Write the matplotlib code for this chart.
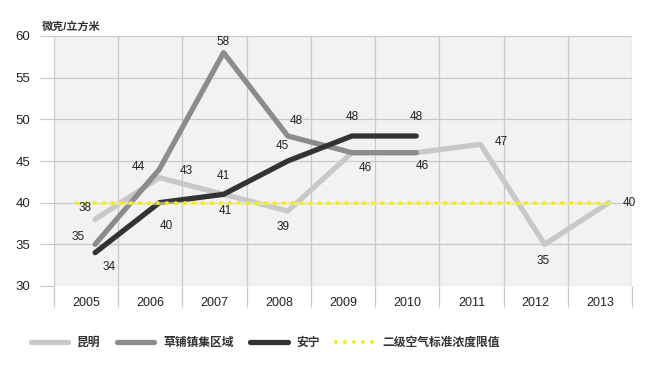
import numpy as np
import matplotlib
matplotlib.use("Agg")
from matplotlib import pyplot as plt
from matplotlib.lines import Line2D

plt.rcParams["font.family"] = ["Liberation Sans", "Noto Sans CJK SC", "DejaVu Sans"]

years = ["2005", "2006", "2007", "2008", "2009", "2010", "2011", "2012", "2013"]
kunming = [38, 43, 41, 39, 46, 46, 47, 35, 40]
caopu = [35, 44, 58, 48, 46, 46]
anning = [34, 40, 41, 45, 48, 48]
standard = [40] * 9

names = ["昆明", "草铺镇集区域", "安宁", "二级空气标准浓度限值"]
unit = "微克/立方米"

c_km, c_cp, c_an = "#c8c8c8", "#8c8c8c", "#333333"
c_std = "#eeee10"
grid_c = "#c9c9c9"

# label offsets in pixels (dx, dy) for each point, None = no label
km_off = [(-10, 11), (27, 7), (2, -17), (-5, -16), (13, -15), None, (21, 2), (-2, -17), (20, 0)]
cp_off = [(-17, 7), (-21, 2), (0, 11), (8, 15), None, (6, -13)]
an_off = [(14, -14), (7, -23), (0, 18), (-5, 15), (0, 19), (0, 19)]

fig = plt.figure(figsize=(6.58, 3.81), dpi=100)
ax = fig.add_axes([54 / 658, 1 - 286 / 381, (632 - 54) / 658, (286 - 36) / 381])
ax.set_facecolor("#f2f2f2")

idx = np.arange(len(years))
xs = idx + 0.14

ax.set_xlim(-0.5, 8.5)
ax.set_ylim(30, 60)
ax.set_yticks(range(30, 61, 5))
ax.set_xticks(idx)
ax.set_xticklabels(years)
ax.set_xticks(np.arange(-0.5, 9, 1), minor=True)
ax.grid(True, axis="y", color=grid_c, lw=0.9, zorder=0)
ax.grid(True, axis="x", which="minor", color=grid_c, lw=0.9, zorder=0)
ax.tick_params(axis="y", length=10, color=grid_c, width=0.9, pad=7, labelsize=9.5, labelcolor="#222222")
ax.tick_params(axis="x", which="major", length=0, pad=8, labelsize=9, labelcolor="#222222")
ax.tick_params(axis="x", which="minor", length=15, color=grid_c, width=0.9)
for s in ax.spines.values():
    s.set_visible(False)
ax.set_axisbelow(True)

lw = 3.8
ax.plot(xs, kunming, color=c_km, lw=lw, solid_capstyle="round", zorder=3)
ax.plot(xs[:len(caopu)], caopu, color=c_cp, lw=lw, solid_capstyle="round", zorder=4)
ax.plot(xs[:len(anning)], anning, color=c_an, lw=lw, solid_capstyle="round", zorder=5)

# standard line, drawn over the data lines
xs_std = xs.copy()
xs_std[0] -= 0.28
ax.plot(xs_std, standard, color="#f4f4a0", lw=2.4, alpha=0.6, zorder=6)
ax.plot(xs_std, standard, color=c_std, lw=2.8, ls=(0, (0.01, 2.3)),
        dash_capstyle="round", zorder=6)

for vals, offs in [(kunming, km_off), (caopu, cp_off), (anning, an_off)]:
    for x, v, o in zip(xs, vals, offs):
        if o is None:
            continue
        ax.annotate(str(v), (x, v), xytext=o, textcoords="offset pixels",
                    ha="center", va="center", fontsize=8.5, color="#222222", zorder=7)

fig.text(42 / 658, 1 - 27 / 381, unit, fontsize=8, fontweight="bold",
         color="#333333", va="center", ha="left")

handles = [
    Line2D([], [], color=c_km, lw=lw, solid_capstyle="round"),
    Line2D([], [], color=c_cp, lw=lw, solid_capstyle="round"),
    Line2D([], [], color=c_an, lw=lw, solid_capstyle="round"),
    Line2D([], [], color=c_std, lw=2.8, ls=(0, (0.01, 2.3)), dash_capstyle="round"),
]
leg = fig.legend(handles, names, loc="center left", bbox_to_anchor=(20 / 658, 1 - 343 / 381),
                 ncol=4, frameon=False, handlelength=3.2, handletextpad=0.75,
                 columnspacing=1.35, prop={"size": 8.5, "weight": "bold"})
for t in leg.get_texts():
    t.set_color("#333333")

fig.savefig("out.png", dpi=100, facecolor="white")
